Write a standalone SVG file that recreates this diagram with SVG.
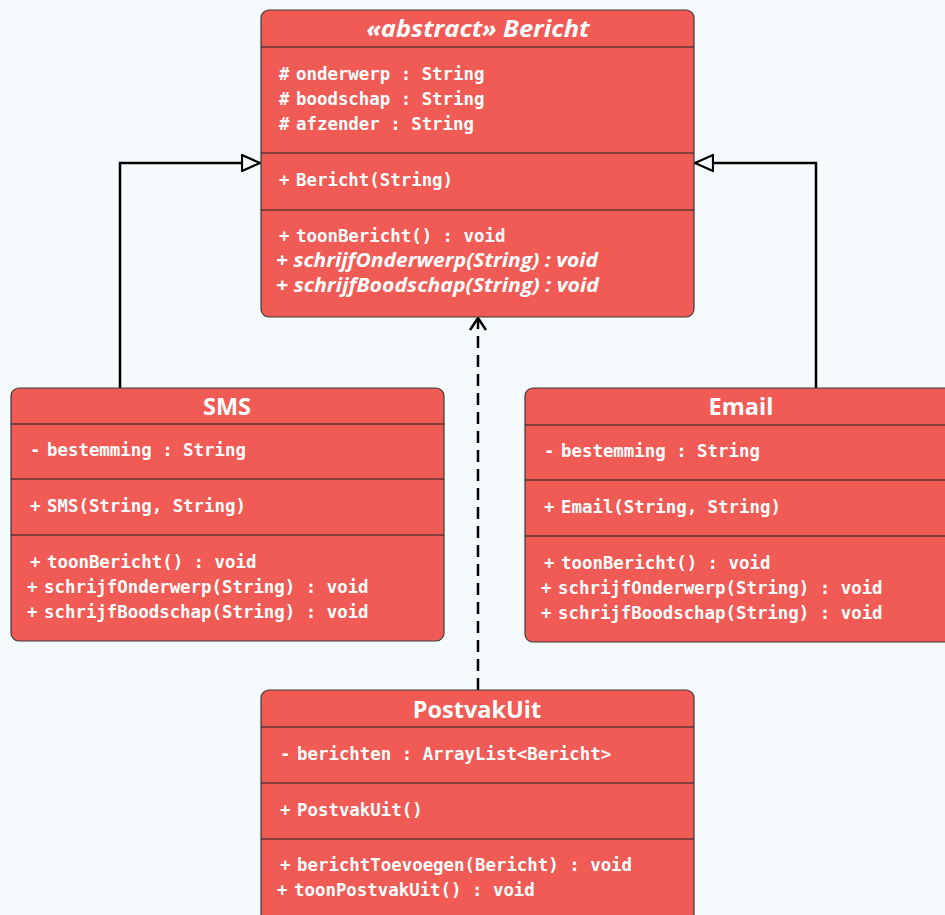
<svg xmlns="http://www.w3.org/2000/svg" width="945" height="915" viewBox="0 0 945 915">
  <defs>
    <style>
      .box { fill: #f15b55; stroke: #3a3a3a; stroke-width: 1.2; }
      .sep { stroke: #1e1e1e; stroke-width: 1.2; }
      .title { fill: #ffffff; font-family: "Open Sans", "Noto Sans", sans-serif; font-weight: 700; font-size: 23.5px; text-anchor: middle; }
      .title-i { font-style: italic; font-size: 24px; }
      .mem { fill: #ffffff; font-family: "DejaVu Sans Mono", "Liberation Mono", monospace; font-weight: 700; font-size: 17.4px; }
      .mem-i { fill: #ffffff; font-family: "Open Sans", "Noto Sans", sans-serif; font-style: italic; font-weight: 700; font-size: 19.5px; }
      .edge { fill: none; stroke: #000000; stroke-width: 2.5; }
      .dashed { stroke-dasharray: 12 7; }
    </style>
    <marker id="inherit" viewBox="0 0 20 18" refX="19" refY="9" markerWidth="20" markerHeight="18" markerUnits="userSpaceOnUse" orient="auto">
      <path d="M1,1 L19,9 L1,17 Z" fill="#f5fbfc" stroke="#000000" stroke-width="2.2"/>
    </marker>
    <marker id="open" viewBox="0 0 14 18" refX="13" refY="9" markerWidth="14" markerHeight="18" markerUnits="userSpaceOnUse" orient="auto">
      <path d="M1,1 L13,9 L1,17" fill="none" stroke="#000000" stroke-width="2.5"/>
    </marker>
  </defs>

  <rect width="945" height="915" fill="#f5fbfc"/>

  <!-- connectors -->
  <g id="connectors">
    <path class="edge" d="M120,388 V163 H260" marker-end="url(#inherit)"/>
    <path class="edge" d="M816,388 V163 H695" marker-end="url(#inherit)"/>
    <path class="edge dashed" d="M478,690 V318" marker-end="url(#open)"/>
  </g>

  <!-- abstract base class -->
  <g id="Bericht">
    <rect class="box" x="261" y="10" width="433" height="307" rx="8"/>
    <line class="sep" x1="261" y1="47" x2="694" y2="47"/>
    <line class="sep" x1="261" y1="153" x2="694" y2="153"/>
    <line class="sep" x1="261" y1="210" x2="694" y2="210"/>
    <text class="title title-i" x="478" y="37" textLength="223" lengthAdjust="spacingAndGlyphs">«abstract» Bericht</text>
    <text class="mem" x="279" y="80">#<tspan x="296">onderwerp : String</tspan></text>
    <text class="mem" x="279" y="105">#<tspan x="296">boodschap : String</tspan></text>
    <text class="mem" x="279" y="130">#<tspan x="296">afzender : String</tspan></text>
    <text class="mem" x="279" y="186">+<tspan x="296">Bericht(String)</tspan></text>
    <text class="mem" x="279" y="242">+<tspan x="296">toonBericht() : void</tspan></text>
    <text class="mem-i" x="276" y="267" textLength="322" lengthAdjust="spacingAndGlyphs">+ schrijfOnderwerp(String) : void</text>
    <text class="mem-i" x="276" y="292" textLength="323" lengthAdjust="spacingAndGlyphs">+ schrijfBoodschap(String) : void</text>
  </g>

  <!-- SMS -->
  <g id="SMS">
    <rect class="box" x="11" y="388" width="433" height="253" rx="8"/>
    <line class="sep" x1="11" y1="424" x2="444" y2="424"/>
    <line class="sep" x1="11" y1="479" x2="444" y2="479"/>
    <line class="sep" x1="11" y1="535" x2="444" y2="535"/>
    <text class="title" x="227" y="415">SMS</text>
    <text class="mem" x="30" y="456">-<tspan x="47">bestemming : String</tspan></text>
    <text class="mem" x="30" y="512">+<tspan x="47">SMS(String, String)</tspan></text>
    <text class="mem" x="30" y="568">+<tspan x="47">toonBericht() : void</tspan></text>
    <text class="mem" x="27" y="593">+<tspan x="44">schrijfOnderwerp(String) : void</tspan></text>
    <text class="mem" x="27" y="618">+<tspan x="44">schrijfBoodschap(String) : void</tspan></text>
  </g>

  <!-- Email -->
  <g id="Email">
    <rect class="box" x="525" y="388" width="433" height="254" rx="8"/>
    <line class="sep" x1="525" y1="425" x2="958" y2="425"/>
    <line class="sep" x1="525" y1="480" x2="958" y2="480"/>
    <line class="sep" x1="525" y1="536" x2="958" y2="536"/>
    <text class="title" x="741" y="415">Email</text>
    <text class="mem" x="544" y="457">-<tspan x="561">bestemming : String</tspan></text>
    <text class="mem" x="544" y="513">+<tspan x="561">Email(String, String)</tspan></text>
    <text class="mem" x="544" y="569">+<tspan x="561">toonBericht() : void</tspan></text>
    <text class="mem" x="541" y="594">+<tspan x="558">schrijfOnderwerp(String) : void</tspan></text>
    <text class="mem" x="541" y="619">+<tspan x="558">schrijfBoodschap(String) : void</tspan></text>
  </g>

  <!-- PostvakUit -->
  <g id="PostvakUit">
    <rect class="box" x="261" y="690" width="433" height="240" rx="8"/>
    <line class="sep" x1="261" y1="727" x2="694" y2="727"/>
    <line class="sep" x1="261" y1="783" x2="694" y2="783"/>
    <line class="sep" x1="261" y1="839" x2="694" y2="839"/>
    <text class="title" x="477" y="718">PostvakUit</text>
    <text class="mem" x="280" y="760">-<tspan x="297">berichten : ArrayList&lt;Bericht&gt;</tspan></text>
    <text class="mem" x="280" y="816">+<tspan x="297">PostvakUit()</tspan></text>
    <text class="mem" x="280" y="871">+<tspan x="297">berichtToevoegen(Bericht) : void</tspan></text>
    <text class="mem" x="277" y="896">+<tspan x="294">toonPostvakUit() : void</tspan></text>
  </g>
</svg>
